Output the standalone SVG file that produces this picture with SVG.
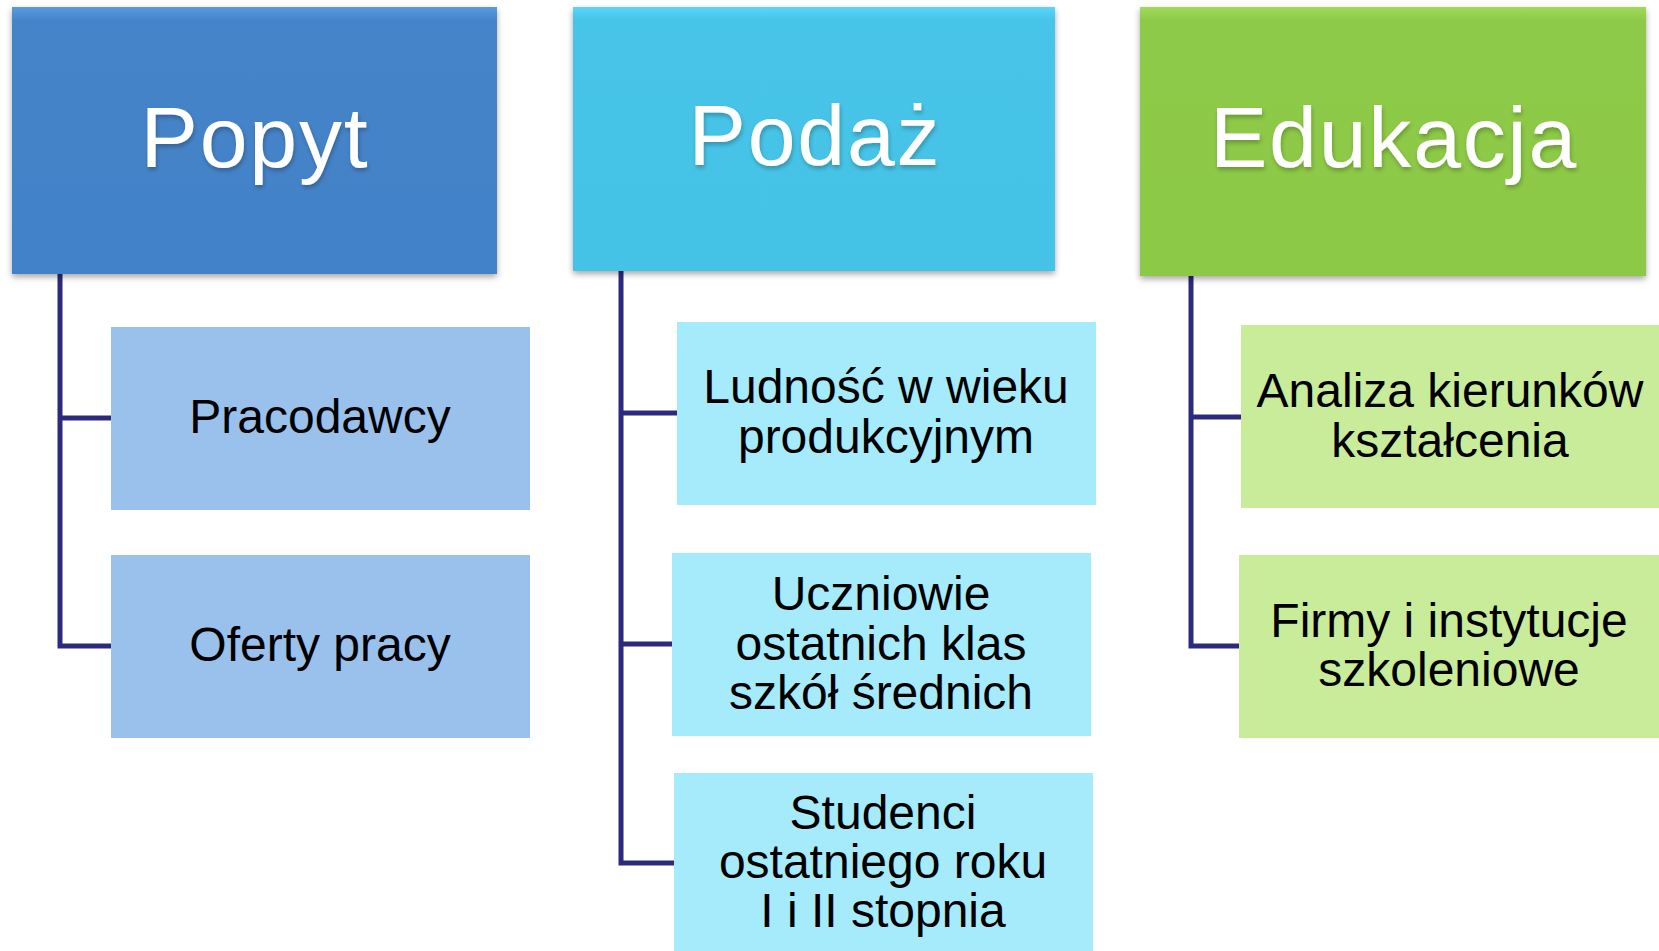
<svg xmlns="http://www.w3.org/2000/svg" width="1659" height="951" viewBox="0 0 1659 951">
<style>
.title{font-family:"Liberation Sans",Arial,sans-serif;font-size:86px;fill:#ffffff;text-anchor:middle;letter-spacing:1.8px;filter:url(#tshadow)}
.lbl{font-family:"Liberation Sans",Arial,sans-serif;font-size:48px;fill:#000000;text-anchor:middle}
.conn{fill:none;stroke:#2B2A7C;stroke-width:5;stroke-linejoin:miter}
</style>
<defs>
<filter id="bshadow" x="-5%" y="-5%" width="110%" height="115%">
<feGaussianBlur in="SourceAlpha" stdDeviation="3"/>
<feOffset dx="0" dy="3" result="b"/>
<feComponentTransfer><feFuncA type="linear" slope="0.35"/></feComponentTransfer>
<feMerge><feMergeNode/><feMergeNode in="SourceGraphic"/></feMerge>
</filter>
<filter id="tshadow" x="-10%" y="-10%" width="120%" height="130%">
<feGaussianBlur in="SourceAlpha" stdDeviation="2"/>
<feOffset dx="1" dy="3" result="b"/>
<feComponentTransfer><feFuncA type="linear" slope="0.25"/></feComponentTransfer>
<feMerge><feMergeNode/><feMergeNode in="SourceGraphic"/></feMerge>
</filter>
<linearGradient id="gBlue" x1="0" y1="0" x2="0" y2="1">
<stop offset="0" stop-color="#5A9BE0"/><stop offset="0.05" stop-color="#4584C9"/><stop offset="1" stop-color="#4382C8"/>
</linearGradient>
<linearGradient id="gCyan" x1="0" y1="0" x2="0" y2="1">
<stop offset="0" stop-color="#5AD6F8"/><stop offset="0.05" stop-color="#46C4E7"/><stop offset="1" stop-color="#45C3E6"/>
</linearGradient>
<linearGradient id="gGreen" x1="0" y1="0" x2="0" y2="1">
<stop offset="0" stop-color="#A0DA5A"/><stop offset="0.05" stop-color="#8ECA48"/><stop offset="1" stop-color="#8CC946"/>
</linearGradient>
</defs>
<rect width="1659" height="951" fill="#ffffff"/>
<g id="connectors">
<path class="conn" d="M60 274 V646 H111 M60 418 H111"/>
<path class="conn" d="M621 271 V863 H674 M621 413 H677 M621 644 H672"/>
<path class="conn" d="M1191 276 V646 H1239 M1191 417 H1241"/>
</g>
<g id="popyt">
<rect x="12" y="7" width="485" height="267" fill="url(#gBlue)" filter="url(#bshadow)"/>
<text class="title" x="255" y="167">Popyt</text>
</g>
<g id="podaz">
<rect x="573" y="7" width="482" height="264" fill="url(#gCyan)" filter="url(#bshadow)"/>
<text class="title" x="815" y="165">Podaż</text>
</g>
<g id="edukacja">
<rect x="1140" y="7" width="506" height="269" fill="url(#gGreen)" filter="url(#bshadow)"/>
<text class="title" x="1394" y="167">Edukacja</text>
</g>
<g id="pracodawcy">
<rect x="111" y="327" width="419" height="183" fill="#99C1EC"/>
<text class="lbl" x="320" y="433">Pracodawcy</text>
</g>
<g id="oferty">
<rect x="111" y="555" width="419" height="183" fill="#99C1EC"/>
<text class="lbl" x="320" y="661">Oferty pracy</text>
</g>
<g id="ludnosc">
<rect x="677" y="322" width="419" height="183" fill="#A6EBFC"/>
<text class="lbl" x="886" y="403">Ludność w wieku</text>
<text class="lbl" x="886" y="453">produkcyjnym</text>
</g>
<g id="uczniowie">
<rect x="672" y="553" width="419" height="183" fill="#A6EBFC"/>
<text class="lbl" x="881" y="610">Uczniowie</text>
<text class="lbl" x="881" y="660">ostatnich klas</text>
<text class="lbl" x="881" y="709">szkół średnich</text>
</g>
<g id="studenci">
<rect x="674" y="773" width="419" height="183" fill="#A6EBFC"/>
<text class="lbl" x="883" y="829">Studenci</text>
<text class="lbl" x="883" y="878">ostatniego roku</text>
<text class="lbl" x="883" y="927">I i II stopnia</text>
</g>
<g id="analiza">
<rect x="1241" y="325" width="420" height="183" fill="#C8EC9A"/>
<text class="lbl" x="1450" y="407">Analiza kierunków</text>
<text class="lbl" x="1450" y="457">kształcenia</text>
</g>
<g id="firmy">
<rect x="1239" y="555" width="422" height="183" fill="#C8EC9A"/>
<text class="lbl" x="1449" y="637">Firmy i instytucje</text>
<text class="lbl" x="1449" y="686">szkoleniowe</text>
</g>
</svg>
